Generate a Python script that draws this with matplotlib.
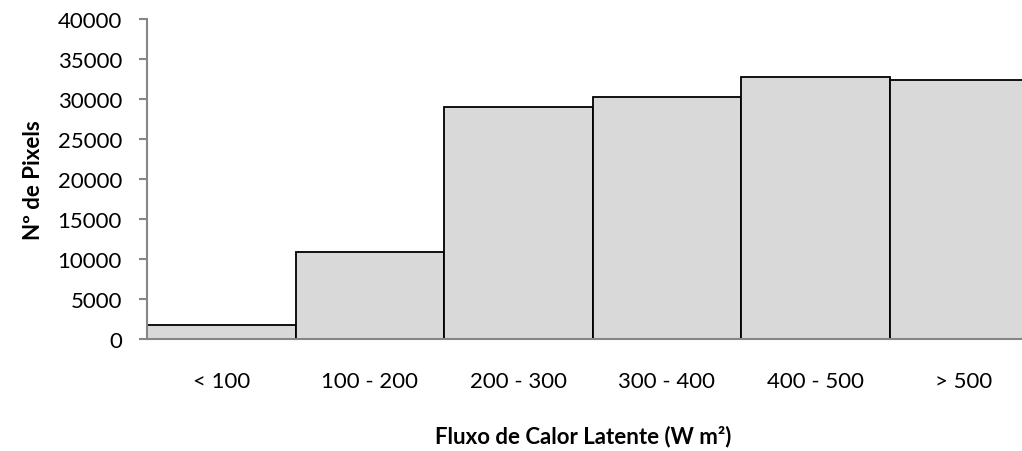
import numpy as np
import matplotlib
matplotlib.use("Agg")
import matplotlib.pyplot as plt

plt.rcParams["font.family"] = ["Lato", "DejaVu Sans"]

categories = ["< 100", "100 - 200", "200 - 300", "300 - 400", "400 - 500", "> 500"]
pixels = [1750, 10850, 29000, 30200, 32750, 32350]
y_ticks = [0, 5000, 10000, 15000, 20000, 25000, 30000, 35000, 40000]

axis_grey = "#868686"


def main():
    fig = plt.figure(figsize=(10.22, 4.52), dpi=100)
    ax = fig.add_axes([147 / 1022, 1 - 340 / 452, 891 / 1022, 320 / 452])

    x = np.arange(len(categories))
    ax.bar(x, pixels, width=1.0, color="#d9d9d9", edgecolor="black", linewidth=1.3)

    ax.set_xlim(-0.5, len(categories) - 0.5)
    ax.set_ylim(0, 40000)
    ax.set_yticks(y_ticks)
    ax.set_yticklabels([str(v) for v in y_ticks])
    ax.set_xticks(x)
    ax.set_xticklabels(categories)

    for side in ["top", "right"]:
        ax.spines[side].set_visible(False)
    for side in ["left", "bottom"]:
        ax.spines[side].set_color(axis_grey)
        ax.spines[side].set_linewidth(1.5)

    ax.tick_params(axis="y", length=6, width=1.5, color=axis_grey, pad=12, labelsize=16)
    ax.tick_params(axis="x", length=0, pad=23, labelsize=16)

    ax.set_ylabel("Nº de Pixels", fontsize=16, fontweight="bold", labelpad=10)
    fig.text(583 / 1022, 1 - 437 / 452, "Fluxo de Calor Latente (W m²)",
             ha="center", va="center", fontsize=16, fontweight="bold")

    fig.savefig("out.png", dpi=100)


if __name__ == "__main__":
    main()
